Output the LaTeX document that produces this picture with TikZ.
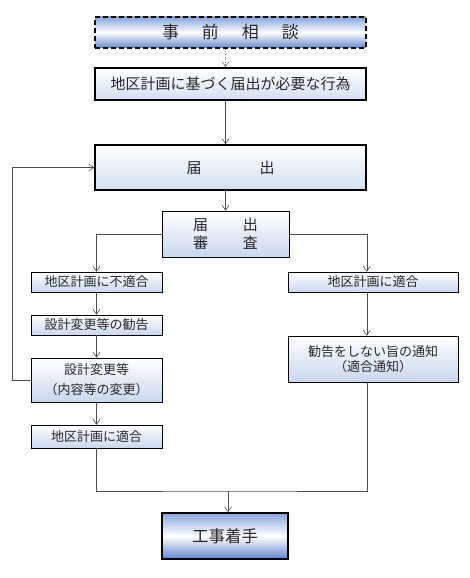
\documentclass[tikz,border=0pt]{standalone}
\usepackage{fontspec}
\setmainfont{Noto Sans CJK JP}
\usetikzlibrary{arrows.meta}
\definecolor{blueedge}{RGB}{95,135,205}
\definecolor{bluesoft}{RGB}{200,215,238}
\definecolor{inktext}{RGB}{40,40,40}
\tikzstyle{bigbox}=[draw, line width=1.6pt, top color=blueedge!75, bottom color=blueedge, middle color=white, text=inktext]
\tikzstyle{mainbox}=[draw, line width=1.6pt, top color=white, bottom color=bluesoft!80, text=inktext]
\tikzstyle{stepbox}=[draw, line width=0.6pt, top color=white, bottom color=bluesoft, text=inktext, inner sep=0pt, align=center, font=\fontsize{13}{15}\selectfont]
\tikzstyle{flow}=[draw=black!70, line width=0.6pt]

\begin{document}
\begin{tikzpicture}[x=1pt, y=-1pt, >={Straight Barb[length=5pt,width=7pt]}]
\useasboundingbox (0,0) rectangle (469,578);
\node[bigbox, dash pattern=on 5pt off 3pt, minimum width=271pt, minimum height=31pt, font=\fontsize{17}{19}\selectfont] at (230.5, 32.5) (soudan) {事\hspace{23pt}前\hspace{23pt}相\hspace{23pt}談};
\node[mainbox, minimum width=271pt, minimum height=32pt, font=\fontsize{15}{17}\selectfont] at (230.5, 84) (koui) {地区計画に基づく届出が必要な行為};
\node[mainbox, minimum width=271pt, minimum height=45pt, font=\fontsize{15}{17}\selectfont] at (230.5, 167.5) (todoke) {届\hspace{58pt}出};
\node[stepbox, minimum width=127pt, minimum height=46pt, font=\fontsize{15}{18}\selectfont] at (225.5, 234) (shinsa) {届\hspace{35pt}出\\審\hspace{35pt}査};
\node[stepbox, minimum width=131pt, minimum height=20pt] at (96.5, 282) (futekigo) {地区計画に不適合};
\node[stepbox, minimum width=170pt, minimum height=20pt] at (373, 282) (tekigo) {地区計画に適合};
\node[stepbox, minimum width=131pt, minimum height=20pt] at (96.5, 325) (kankoku) {設計変更等の勧告};
\node[stepbox, minimum width=131pt, minimum height=44pt, font=\fontsize{13}{20}\selectfont] at (96.5, 380) (henkou) {設計変更等\\（内容等の変更）};
\node[stepbox, minimum width=170pt, minimum height=46pt] at (373, 359) (tsuchi) {勧告をしない旨の通知\\（適合通知）};
\node[stepbox, minimum width=131pt, minimum height=23pt] at (96.5, 436.5) (tekigo2) {地区計画に適合};
\node[bigbox, minimum width=126pt, minimum height=46pt, font=\fontsize{16.5}{18}\selectfont] at (225, 536) (chakushu) {工事着手};
\coordinate (join) at (228, 491);

\draw[->, black!55, dotted, line width=0.6pt] (soudan.south -| shinsa) -- (koui.north -| shinsa);
\draw[->, flow] (koui.south -| shinsa) -- (todoke.north -| shinsa);
\draw[->, flow] (todoke.south -| shinsa) -- (shinsa.north);
\draw[->, flow] (shinsa.west) -| (futekigo.north);
\draw[->, flow] (shinsa.east) -| (tekigo.north -| todoke.east);
\draw[->, flow] (futekigo) -- (kankoku);
\draw[->, flow] (kankoku) -- (henkou);
\draw[->, flow] (henkou) -- (tekigo2);
\draw[->, flow] (tekigo.south -| todoke.east) -- (tsuchi.north -| todoke.east);
\draw[->, flow] (henkou.west) -- ++(-18,0) |- (todoke.west);
\draw[flow] (tekigo2.south) |- (join) -| (tsuchi.south -| todoke.east);
\draw[->, flow] (join) -- (chakushu.north -| join);

\end{tikzpicture}
\end{document}
